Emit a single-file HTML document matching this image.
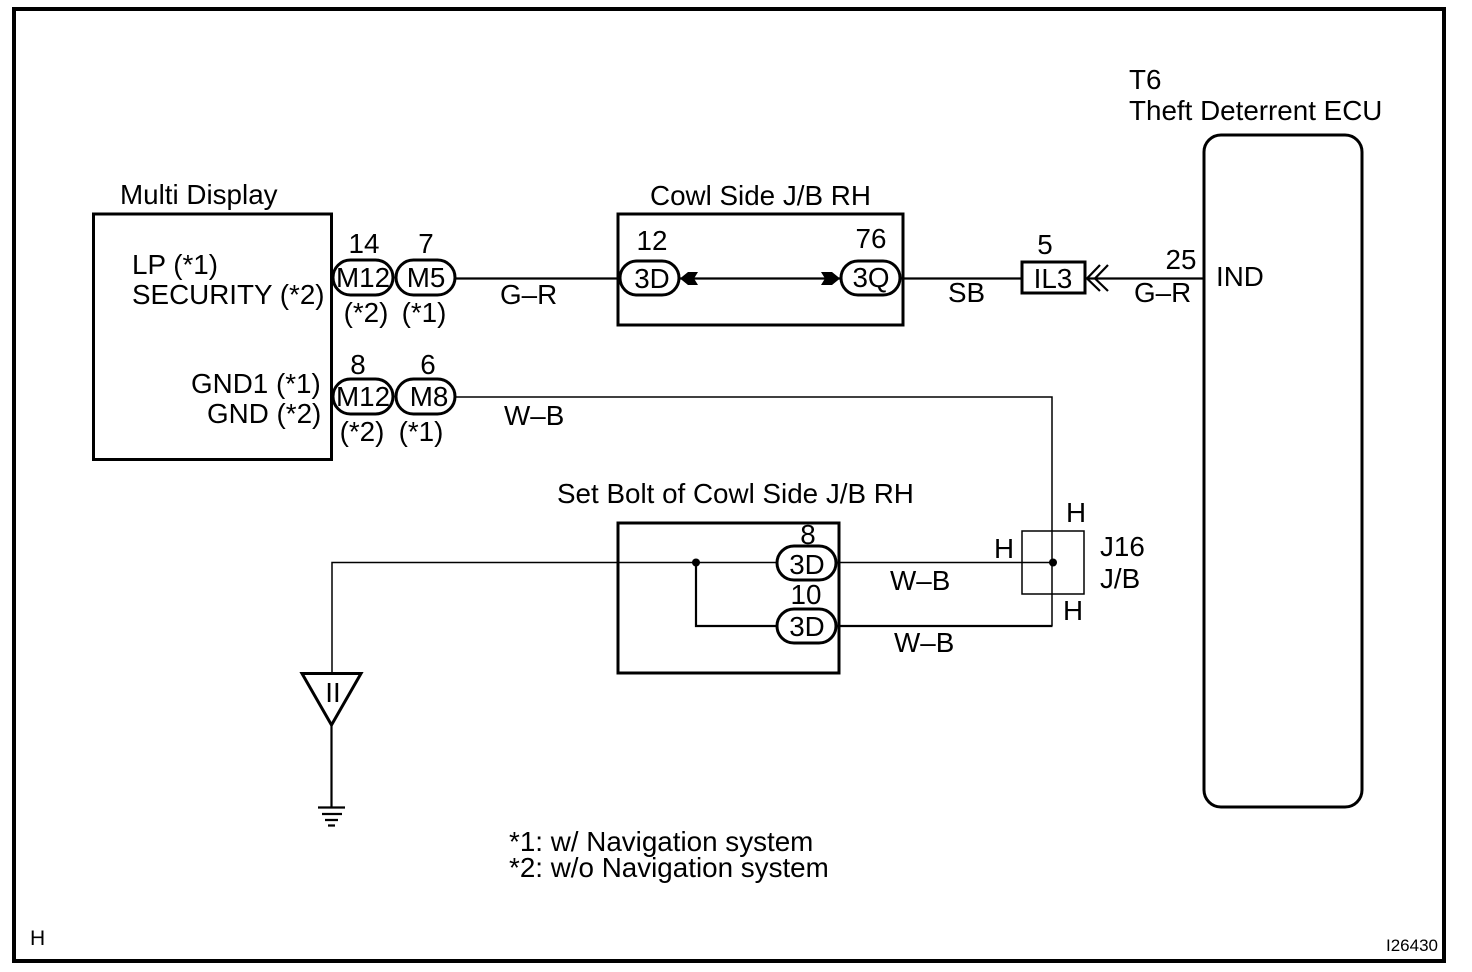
<!DOCTYPE html>
<html><head><meta charset="utf-8"><style>
html,body{margin:0;padding:0;background:#fff}
svg{display:block}
text{font-family:"Liberation Sans",sans-serif;font-size:27.800px;fill:#000}
.s{text-anchor:middle}
</style></head><body>
<svg width="1472" height="972" viewBox="0 0 1472 972" xmlns="http://www.w3.org/2000/svg">
<g fill="none" stroke="#000">
<rect x="14" y="9" width="1430" height="952" stroke-width="4"/>
<rect x="93.5" y="214" width="238" height="245.500" stroke-width="3"/>
<rect x="618" y="214" width="285" height="111" stroke-width="3"/>
<rect x="618" y="523" width="221" height="150" stroke-width="3"/>
<rect x="1204" y="135" width="158" height="672" rx="17" stroke-width="3"/>
<rect x="1022" y="262" width="63" height="31" stroke-width="3"/>
<rect x="1022" y="531" width="62" height="63" stroke-width="1.500"/>
<g stroke-width="2.200">
<path d="M455 278.500H618M680 278.500H840M901 278.500H1022M1088 278.500H1204"/>
<path d="M837 626H1052.500M696 562.500V626H777"/>
</g>
<g stroke-width="1.500">
<path d="M455 397H1052V626"/>
<path d="M837 562.500H1052M777 562.500H332V673"/>
</g>
<g stroke-width="3">
<rect x="333" y="260" width="60" height="35" rx="17.500"/>
<rect x="396" y="260" width="59" height="35" rx="17.500"/>
<rect x="333" y="379" width="60" height="35" rx="17.500"/>
<rect x="396" y="379" width="59" height="35" rx="17.500"/>
<rect x="620" y="261" width="59" height="34" rx="17"/>
<rect x="841" y="261" width="59" height="34" rx="17"/>
<rect x="777" y="546" width="59" height="34" rx="17"/>
<rect x="777" y="609" width="59" height="34" rx="17"/>
<path d="M302 673.500H361L331.500 725Z"/>
</g>
<path d="M331.500 725V807M318 807.500H345M322 814H342M325 820H338M328 825.500H335" stroke-width="2.200"/>
<path d="M1100 265L1087 278.500L1100 291M1108 265L1095 278.500L1108 291" stroke-width="2.200"/>
</g>
<path d="M680 278.500L688 272L698 272L694 278.500L698 285L688 285Z"/>
<path d="M840 278.500L832 272L821 272L825 278.500L821 285L832 285Z"/>
<circle cx="696" cy="562.500" r="4"/>
<circle cx="1053" cy="562.500" r="4"/>
<text x="120" y="204">Multi Display</text>
<text x="650" y="205">Cowl Side J/B RH</text>
<text x="1129" y="89">T6</text>
<text x="1129" y="120">Theft Deterrent ECU</text>
<text x="132" y="274">LP (*1)</text>
<text x="132" y="304">SECURITY (*2)</text>
<text x="191" y="393">GND1 (*1)</text>
<text x="207" y="423">GND (*2)</text>
<text class="s" x="364" y="253">14</text>
<text class="s" x="426" y="253">7</text>
<text class="s" x="363" y="287">M12</text>
<text class="s" x="426" y="287">M5</text>
<text class="s" x="366" y="322">(*2)</text>
<text class="s" x="424" y="322">(*1)</text>
<text class="s" x="358" y="374">8</text>
<text class="s" x="428" y="374">6</text>
<text class="s" x="363" y="406">M12</text>
<text class="s" x="429" y="406">M8</text>
<text class="s" x="362" y="441">(*2)</text>
<text class="s" x="421" y="441">(*1)</text>
<text x="500" y="304">G–R</text>
<text x="504" y="425">W–B</text>
<text class="s" x="652" y="250">12</text>
<text class="s" x="871" y="248">76</text>
<text class="s" x="652" y="288">3D</text>
<text class="s" x="871" y="287">3Q</text>
<text x="948" y="302">SB</text>
<text class="s" x="1045" y="254">5</text>
<text class="s" x="1053" y="288">IL3</text>
<text class="s" x="1181" y="269">25</text>
<text x="1134" y="302">G–R</text>
<text x="1216" y="286">IND</text>
<text x="557" y="503">Set Bolt of Cowl Side J/B RH</text>
<text class="s" x="808" y="544">8</text>
<text class="s" x="806" y="604">10</text>
<text class="s" x="807" y="574">3D</text>
<text class="s" x="807" y="636">3D</text>
<text x="890" y="590">W–B</text>
<text x="894" y="652">W–B</text>
<text x="994" y="558">H</text>
<text x="1066" y="522">H</text>
<text x="1063" y="620">H</text>
<text x="1100" y="556">J16</text>
<text x="1100" y="588">J/B</text>
<text class="s" x="333" y="702">II</text>
<text x="509" y="851">*1: w/ Navigation system</text>
<text x="509" y="877">*2: w/o Navigation system</text>
<text x="30" y="945" style="font-size:21px">H</text>
<text x="1386" y="951" style="font-size:17px">I26430</text>
</svg>
</body></html>
